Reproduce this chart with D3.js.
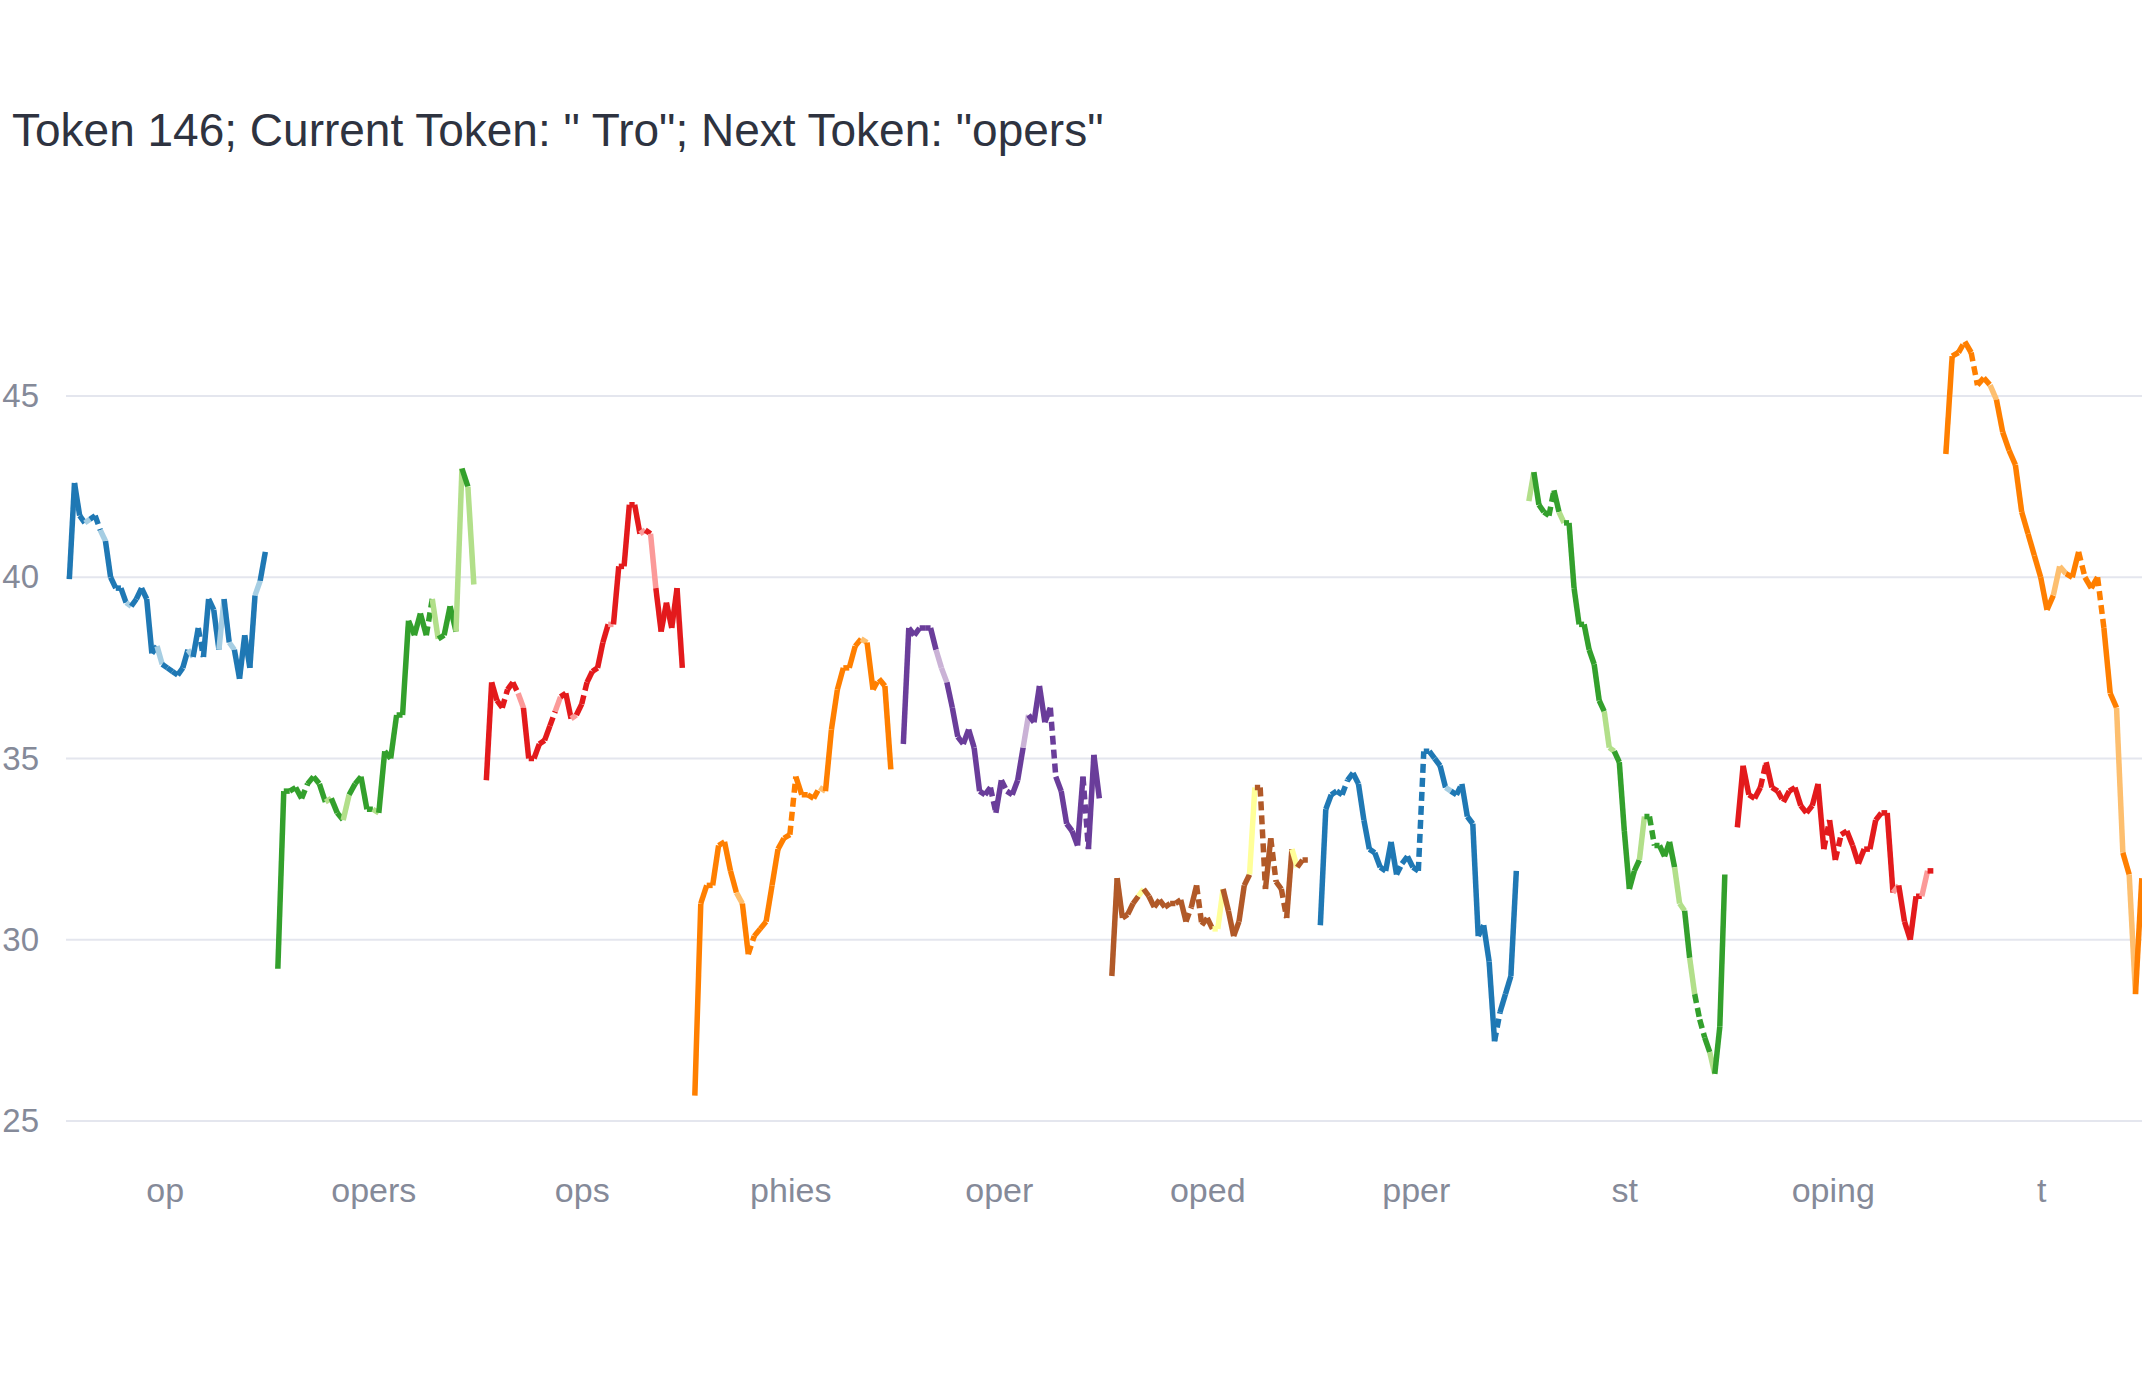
<!DOCTYPE html>
<html><head><meta charset="utf-8">
<script src="https://cdn.jsdelivr.net/npm/d3@7"></script>
<style>body{margin:0;background:#fff}svg{display:block}</style>
</head><body>
<script>
const categories = ["op","opers","ops","phies","oper","oped","pper","st","oping","t"];
const yTicks = [25,30,35,40,45];
const s_op = [39.95,42.6,41.7,41.5,41.6,41.7,41.3,41.0,40.0,39.7,39.7,39.3,39.2,39.4,39.7,39.4,37.9,38.1,37.6,37.5,37.4,37.3,37.5,38.0,37.8,38.6,37.8,39.4,39.1,38.0,39.4,38.2,38.0,37.2,38.4,37.5,39.5,39.9,40.7];
const s_opers = [29.2,34.1,34.1,34.2,33.9,34.3,34.5,34.3,33.8,33.9,33.5,33.3,34.0,34.3,34.5,33.6,33.6,33.5,35.2,35.0,36.2,36.2,38.8,38.4,39.0,38.4,39.4,38.3,38.4,39.2,38.5,43.0,42.5,39.8];
const s_ops = [34.4,37.1,36.6,36.4,36.9,37.1,36.8,36.4,35.0,35.0,35.4,35.5,35.9,36.3,36.7,36.8,36.1,36.2,36.5,37.1,37.4,37.5,38.2,38.7,38.7,40.3,40.3,42.0,42.0,41.2,41.3,41.2,39.7,38.5,39.3,38.6,39.7,37.5];
const s_phies = [25.7,31.0,31.5,31.5,32.6,32.7,31.9,31.3,31.0,29.6,30.1,30.3,30.5,31.5,32.5,32.8,32.9,34.5,34.0,34.0,33.9,34.2,34.1,35.8,36.9,37.5,37.5,38.1,38.3,38.2,36.9,37.2,37.0,34.7];
const s_oper = [35.4,38.6,38.4,38.6,38.6,38.6,38.0,37.5,37.1,36.4,35.6,35.4,35.8,35.3,34.1,34.0,34.2,33.5,34.4,34.1,34.0,34.4,35.3,36.2,36.0,37.0,36.0,36.4,34.5,34.1,33.2,33.0,32.6,34.5,32.5,35.1,33.9];
const s_oped = [29.0,31.7,30.6,30.7,31.0,31.2,31.4,31.2,30.9,31.1,30.9,31.0,31.0,31.1,30.5,30.9,31.5,30.4,30.6,30.3,30.3,31.4,30.8,30.1,30.5,31.5,31.8,34.2,34.2,31.4,32.8,31.6,31.4,30.6,32.5,32.0,32.2,32.2];
const s_pper = [30.4,33.6,34.0,34.1,34.0,34.4,34.6,34.3,33.3,32.5,32.4,32.0,31.9,32.7,31.8,32.1,32.3,32.0,31.9,35.2,35.2,35.0,34.8,34.2,34.1,34.0,34.3,33.4,33.2,30.1,30.4,29.4,27.2,28.0,28.5,29.0,31.9];
const s_st = [42.1,42.9,42.0,41.8,41.7,42.4,41.8,41.5,41.5,39.7,38.7,38.7,38.0,37.6,36.6,36.3,35.3,35.2,34.9,33.0,31.4,31.9,32.2,33.4,33.4,32.6,32.6,32.3,32.7,32.0,31.0,30.8,29.5,28.5,27.8,27.3,26.9,26.3,27.6,31.8];
const s_oping = [33.1,34.8,34.0,33.9,34.2,34.9,34.2,34.1,33.8,34.1,34.2,33.7,33.5,33.7,34.3,32.5,33.3,32.2,32.9,33.0,32.6,32.1,32.5,32.5,33.3,33.5,33.5,31.3,31.5,30.5,30.0,31.2,31.2,31.9,31.9];
const s_t = [43.4,46.1,46.2,46.5,46.2,45.3,45.5,45.3,44.9,44.0,43.5,43.1,41.8,41.2,40.6,40.0,39.1,39.5,40.3,40.1,40.0,40.7,40.0,39.7,40.0,38.6,36.8,36.4,32.4,31.8,28.5,31.7];
const seriesValues = [s_op,s_opers,s_ops,s_phies,s_oper,s_oped,s_pper,s_st,s_oping,s_t];
// segment styles: s = solid, l = light, d = dashed
const segStyles = [
 "ssslsdlssdslsssssldddsslsdssslslssssls",
 "sdssdsdslsdlsssslssssssssdlssslsls",
 "sssdsdlsssdsdlsslsdsssslsssdslslsss",
 "ssssdsslsdssssssdsssdlsssdsslsdsss",
 "ssdsdsllssdsssssdsdssslssssdsssssdsss",
 "ssdsdldsdsdsssdsdssllssssslsdsdsdsl",
 "ssdsdssssdssssdsssdsdsslsdssssssdssss",
 "lsdsdslssssssssllssssslsdssssllslddsls",
 "ssdsdssdsdsdsssdsdssssssdsslsssslsd",
 "ssdsdsdlsssssssssllssdssdsslslsl"
];
const darkColors = ["#1f78b4","#33a02c","#e31a1c","#ff7f00","#6a3d9a","#b15928","#1f78b4","#33a02c","#e31a1c","#ff7f00"];
const lightColors = ["#a6cee3","#b2df8a","#fb9a99","#fdbf6f","#cab2d6","#ffff99","#a6cee3","#b2df8a","#fb9a99","#fdbf6f"];

const W=2142,H=1380;
const FONT="'Liberation Sans', Arial, sans-serif";
const svg=d3.select("body").append("svg").attr("width",W).attr("height",H);
const x=d3.scaleBand().domain(categories).range([61,2146]).paddingInner(0).paddingOuter(0);
const y=d3.scaleLinear().domain([25,45]).range([1121,396]);

svg.append("g").selectAll("line").data(yTicks).join("line")
 .attr("x1",66).attr("x2",W).attr("y1",d=>y(d)).attr("y2",d=>y(d))
 .attr("stroke","#e4e6ee").attr("stroke-width",2);

const yAxis=d3.axisLeft(y).tickValues(yTicks).tickSize(0).tickPadding(0);
const gy=svg.append("g").attr("transform","translate(39,0)").call(yAxis);
gy.select(".domain").remove();
gy.selectAll("text").attr("font-family",FONT).attr("font-size",33).attr("fill","#858a99");

const xAxis=d3.axisBottom(x).tickSize(0).tickPadding(0);
const gx=svg.append("g").attr("transform","translate(0,1178)").call(xAxis);
gx.select(".domain").remove();
gx.selectAll("text").attr("font-family",FONT).attr("font-size",34).attr("fill","#858a99");

svg.append("text").attr("x",12).attr("y",146).attr("font-family",FONT)
 .attr("font-size",46).attr("fill","#2e3340").text('Token 146; Current Token: " Tro"; Next Token: "opers"');

svg.append("clipPath").attr("id","clip").append("rect").attr("x",0).attr("y",0).attr("width",W).attr("height",H);
const lines=svg.append("g").attr("clip-path","url(#clip)");
seriesValues.forEach((vals,si)=>{
  const bw=x.bandwidth(), x0=x(categories[si]);
  const xi=d3.scaleLinear().domain([0,vals.length-1]).range([x0+bw*0.04,x0+bw*0.98]);
  const segs=d3.range(vals.length-1).map(i=>({i,st:segStyles[si][i]||"s"}));
  lines.append("g").selectAll("line").data(segs).join("line")
   .attr("x1",d=>xi(d.i)).attr("y1",d=>y(vals[d.i]))
   .attr("x2",d=>xi(d.i+1)).attr("y2",d=>y(vals[d.i+1]))
   .attr("stroke",d=>d.st==="l"?lightColors[si]:darkColors[si])
   .attr("stroke-dasharray",d=>d.st==="d"?"9,5":null)
   .attr("stroke-width",5.5);
});
</script>
</body></html>
